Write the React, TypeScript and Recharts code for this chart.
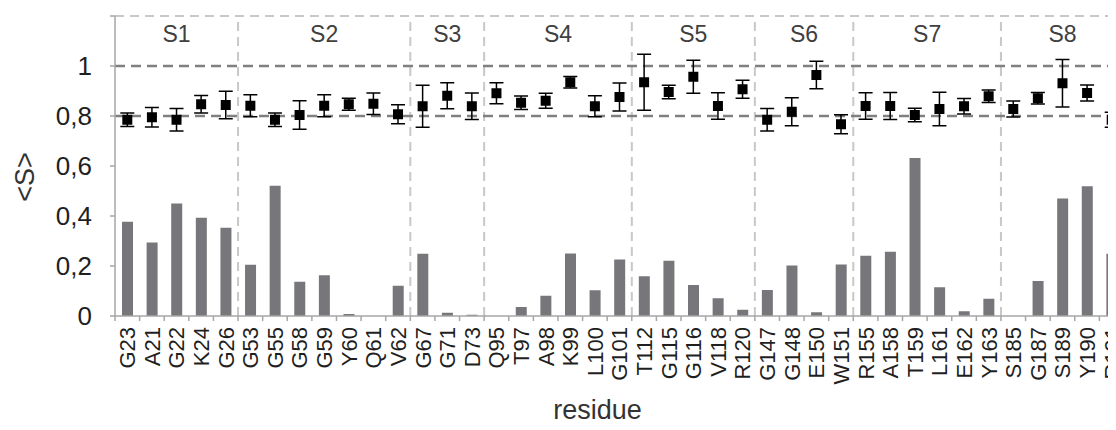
import {
  ComposedChart,
  Bar,
  Scatter,
  ErrorBar,
  XAxis,
  YAxis,
  ReferenceLine,
  ReferenceArea,
} from "recharts";

const FONT = "'Liberation Sans', Arial, sans-serif";

const residues = [
  "G23", "A21", "G22", "K24", "G26",
  "G53", "G55", "G58", "G59", "Y60", "Q61", "V62",
  "G67", "G71", "D73",
  "Q95", "T97", "A98", "K99", "L100", "G101",
  "T112", "G115", "G116", "V118", "R120",
  "G147", "G148", "E150", "W151",
  "R155", "A158", "T159", "L161", "E162", "Y163",
  "S185", "G187", "S189", "Y190", "R191",
];

const groupNames = ["S1", "S2", "S3", "S4", "S5", "S6", "S7", "S8"];
const groupSizes = [5, 7, 3, 6, 5, 4, 6, 5];

// grey bars
const barValues = [
  0.377, 0.294, 0.45, 0.393, 0.353,
  0.205, 0.521, 0.137, 0.163, 0.008, 0, 0.121,
  0.249, 0.013, 0.005,
  0, 0.036, 0.081, 0.25, 0.103, 0.226,
  0.159, 0.221, 0.124, 0.071, 0.025,
  0.104, 0.202, 0.015, 0.206,
  0.241, 0.257, 0.632, 0.115, 0.019, 0.069,
  0, 0.14, 0.47, 0.519, 0.249,
];

// <S> points and their error
const sValues = [
  0.785, 0.795, 0.785, 0.847, 0.844,
  0.841, 0.785, 0.804, 0.841, 0.847, 0.849, 0.807,
  0.839, 0.881, 0.839,
  0.891, 0.853, 0.861, 0.935, 0.839, 0.876,
  0.935, 0.896, 0.957, 0.84, 0.907,
  0.785, 0.817, 0.964, 0.767,
  0.84, 0.84, 0.804, 0.828, 0.839, 0.879,
  0.828, 0.871, 0.931, 0.892, 0.785,
];
const sErrors = [
  0.027, 0.039, 0.045, 0.035, 0.055,
  0.044, 0.027, 0.057, 0.044, 0.024, 0.043, 0.038,
  0.084, 0.052, 0.053,
  0.042, 0.027, 0.03, 0.023, 0.042, 0.056,
  0.112, 0.027, 0.066, 0.053, 0.036,
  0.045, 0.056, 0.055, 0.038,
  0.053, 0.054, 0.027, 0.067, 0.031, 0.025,
  0.032, 0.023, 0.095, 0.032, 0.03,
];

const yTicks = [0, 0.2, 0.4, 0.6, 0.8, 1, 1.2];
const refLevels = [0.8, 1];

const chartData = residues.map((name, i) => ({
  name,
  bar: barValues[i],
  s: sValues[i],
  err: sErrors[i],
}));

// first residue index of every group
const groupStarts = groupSizes.reduce<number[]>(
  (acc, n, i) => [...acc, i === 0 ? 0 : acc[i - 1] + groupSizes[i - 1]],
  []
);

const AXIS_GREY = "#a6a6a6";

function ResidueTick(props: any) {
  const { x, y, payload, index, width, visibleTicksCount } = props;
  const half =
    payload && payload.offset ? payload.offset : width / visibleTicksCount / 2;
  const ty = y + 11;
  const isLast = index === visibleTicksCount - 1;
  return (
    <g>
      <line x1={x - half} y1={y} x2={x - half} y2={y + 5} stroke={AXIS_GREY} strokeWidth={1.5} />
      {isLast && (
        <line x1={x + half} y1={y} x2={x + half} y2={y + 5} stroke={AXIS_GREY} strokeWidth={1.5} />
      )}
      <text
        x={x}
        y={ty}
        dy="0.36em"
        textAnchor="end"
        transform={`rotate(-90, ${x}, ${ty})`}
        fontSize={22}
        fontFamily={FONT}
        fill="#1f1f1f"
      >
        {payload.value}
      </text>
    </g>
  );
}

function SquareDot(props: any) {
  const { cx, cy } = props;
  return <rect x={cx - 5} y={cy - 5} width={10} height={10} fill="#000" />;
}

export default function App() {
  return (
    <div style={{ width: 1108, height: 422, overflow: "hidden", marginBottom: -8 }}>
      <ComposedChart
        width={1126}
        height={422}
        data={chartData}
        margin={{ top: 8, right: 10, left: 0, bottom: 0 }}
        style={{ fontFamily: FONT }}
      >
        <XAxis
          dataKey="name"
          interval={0}
          height={114}
          axisLine={{ stroke: AXIS_GREY, strokeWidth: 1.5 }}
          tickLine={false}
          tickSize={0}
          tickMargin={0}
          tick={<ResidueTick />}
          label={{
            value: "residue",
            content: (p: any) => {
              const vb = p.viewBox;
              return (
                <text
                  x={vb.x + vb.width / 2 - 22}
                  y={vb.y + vb.height - 11}
                  textAnchor="middle"
                  fontSize={27}
                  fontFamily={FONT}
                  fill="#333"
                >
                  residue
                </text>
              );
            },
          }}
        />
        <YAxis
          domain={[0, 1.2]}
          ticks={yTicks}
          width={107}
          tickSize={5}
          tickMargin={18}
          tickFormatter={(v: number) => (v > 1.1 ? "" : String(v).replace(".", ","))}
          tick={{ fontSize: 26, fill: "#1f1f1f", fontFamily: FONT }}
          axisLine={{ stroke: AXIS_GREY, strokeWidth: 1.5 }}
          tickLine={{ stroke: AXIS_GREY, strokeWidth: 1.5 }}
          label={{
            value: "<S>",
            content: (p: any) => {
              const vb = p.viewBox;
              const lx = vb.x + 16;
              const ly = vb.y + vb.height / 2 + 11;
              return (
                <text
                  x={lx}
                  y={ly}
                  dy="0.36em"
                  textAnchor="middle"
                  transform={`rotate(-90, ${lx}, ${ly})`}
                  fontSize={27}
                  fontFamily={FONT}
                  fill="#333"
                >
                  {"<S>"}
                </text>
              );
            },
          }}
        />

        <ReferenceLine
          y={1.2}
          stroke="#c8c8c8"
          strokeWidth={2}
          strokeDasharray="9 6"
        />
        {groupStarts.slice(1).map((start) => (
          <ReferenceLine
            key={start}
            x={residues[start]}
            position="start"
            stroke="#c8c8c8"
            strokeWidth={2}
            strokeDasharray="9 6"
          />
        ))}
        <ReferenceLine
          x={residues[residues.length - 1]}
          position="end"
          stroke="#c8c8c8"
          strokeWidth={2}
          strokeDasharray="9 6"
        />
        {refLevels.map((lv) => (
          <ReferenceLine
            key={lv}
            y={lv}
            stroke="#808080"
            strokeWidth={2.5}
            strokeDasharray="10 6"
          />
        ))}
        {groupNames.map((g, i) => (
          <ReferenceArea
            key={g}
            x1={residues[groupStarts[i]]}
            x2={residues[groupStarts[i] + groupSizes[i] - 1]}
            y1={1.06}
            y2={1.2}
            fill="none"
            stroke="none"
            label={{
              value: g,
              position: "center",
              fontSize: 23,
              fill: "#404040",
              fontFamily: FONT,
            }}
          />
        ))}

        <Bar
          dataKey="bar"
          fill="#77777b"
          barSize={11}
          isAnimationActive={false}
        />
        <Scatter
          dataKey="s"
          shape={<SquareDot />}
          isAnimationActive={false}
        >
          <ErrorBar
            dataKey="err"
            direction="y"
            width={7}
            stroke="#000"
            strokeWidth={1.5}
          />
        </Scatter>
      </ComposedChart>
    </div>
  );
}
